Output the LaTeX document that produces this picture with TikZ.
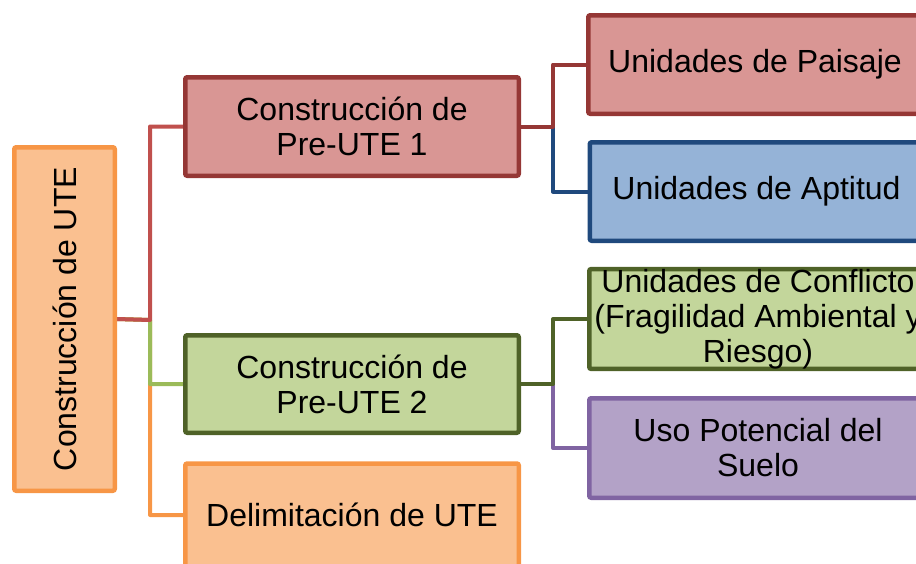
\documentclass[tikz,border=0pt]{standalone}
\usepackage{fontspec}
\setmainfont{Liberation Sans}
\usetikzlibrary{backgrounds}
\definecolor{rootfill}{HTML}{FAC090}
\definecolor{rootline}{HTML}{F79646}
\definecolor{redfill}{HTML}{D99694}
\definecolor{redline}{HTML}{953735}
\definecolor{redconn}{HTML}{C0504D}
\definecolor{greenfill}{HTML}{C3D69B}
\definecolor{greenline}{HTML}{4F6228}
\definecolor{greenconn}{HTML}{9BBB59}
\definecolor{bluefill}{HTML}{95B3D7}
\definecolor{blueline}{HTML}{1F497D}
\definecolor{purplefill}{HTML}{B3A2C7}
\definecolor{purpleline}{HTML}{8064A2}
\begin{document}
\begin{tikzpicture}[x=1pt,y=-1pt,
  box/.style={draw, line width=4.5pt, rounded corners=2pt, align=center,
    font=\fontsize{32}{35}\selectfont, inner sep=0pt, text=black},
  wide/.style={box, minimum width=333.5pt, minimum height=98.5pt},
  conn/.style={line width=4pt, line join=round}]
\useasboundingbox (0,0) rectangle (916,563);
\clip (0,0) rectangle (916,563);

\node[box, rotate=90, fill=rootfill, draw=rootline,
      minimum width=343.5pt, minimum height=100.5pt] (root) at (64.5,319) {Construcción de UTE};

\node[wide, fill=redfill, draw=redline] (pre1) at (352,126.5) {Construcción de\\Pre-UTE 1};
\node[wide, fill=greenfill, draw=greenline, minimum height=97.5pt] (pre2) at (352,384) {Construcción de\\Pre-UTE 2};
\node[wide, fill=rootfill, draw=rootline, minimum height=103pt] (delim) at (352,515) {Delimitación de UTE};

\node[wide, fill=redfill, draw=redline] (paisaje) at (755,64.5) {Unidades de Paisaje};
\node[wide, fill=bluefill, draw=blueline] (aptitud) at (756.5,191.5) {Unidades de Aptitud};
\node[wide, fill=greenfill, draw=greenline, minimum width=337.5pt, minimum height=99.5pt] (conflicto) at (758,319) {Unidades de Conflicto\\(Fragilidad Ambiental y\\Riesgo)};
\node[wide, fill=purplefill, draw=purpleline, minimum width=337.5pt, minimum height=99.5pt] (uso) at (758,448) {Uso Potencial del\\Suelo};

\coordinate (j0) at (150,320);
\coordinate (j1) at (553,126.5);
\coordinate (j2) at (553,384);

\begin{pgfonlayer}{background}
  \draw[conn, rootline] (root.south) -- (j0) |- (delim.west);
  \draw[conn, greenconn] (root.south) -- (j0) |- (pre2.west);
  \draw[conn, redconn] (root.south) -- (j0) |- (pre1.west);
  \draw[conn, blueline] (pre1.east) -- (j1) |- (aptitud.west);
  \draw[conn, redline] (pre1.east) -- (j1) |- (paisaje.west);
  \draw[conn, purpleline] (pre2.east) -- (j2) |- (uso.west);
  \draw[conn, greenline] (pre2.east) -- (j2) |- (conflicto.west);
\end{pgfonlayer}
\end{tikzpicture}
\end{document}
